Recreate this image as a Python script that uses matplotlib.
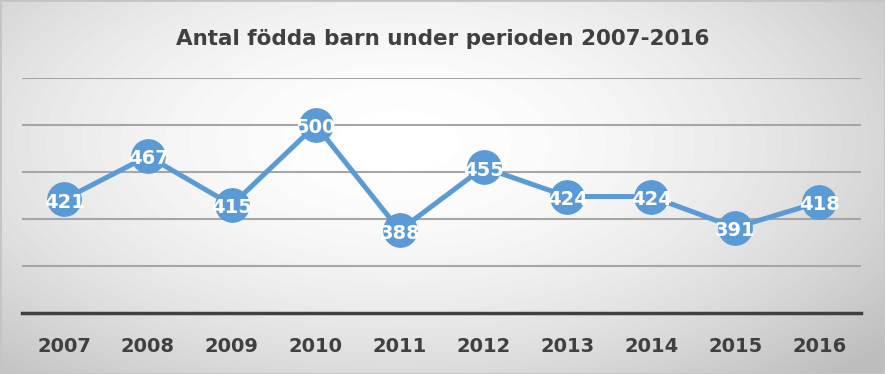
import numpy as np
import matplotlib.pyplot as plt

# data
years = ['2007', '2008', '2009', '2010', '2011', '2012', '2013', '2014', '2015', '2016']
births = [421, 467, 415, 500, 388, 455, 424, 424, 391, 418]
title = 'Antal födda barn under perioden 2007-2016'

blue = '#5B9BD5'
dark = '#404040'

fig = plt.figure(figsize=(8.85, 3.74), dpi=100)

# radial grey gradient behind everything (lightest a bit above centre)
bg = fig.add_axes([0, 0, 1, 1], zorder=0)
yy, xx = np.mgrid[1:0:374j, 0:1:885j]
r = np.sqrt(((xx - 0.45) / 0.62) ** 2 + ((yy - 0.62) / 0.75) ** 2)
bg.imshow(1.0 - 0.2 * np.clip(r, 0, 1.15) ** 1.8, cmap='gray', vmin=0, vmax=1,
          aspect='auto', extent=[0, 1, 0, 1])
bg.add_patch(plt.Rectangle((0, 0), 1, 1, fill=False, ec='#c4c4c4', lw=2,
                           transform=bg.transAxes))
bg.axis('off')

ax = fig.add_axes([0.025, 0.163, 0.948, 0.628], zorder=1)
ax.patch.set_alpha(0)
x = np.arange(len(years))
ax.plot(x, births, color=blue, lw=3.6, marker='o', ms=24, mfc=blue, mec=blue, zorder=3)
for xi, v in zip(x, births):
    ax.text(xi, v - 3, str(v), color='white', fontsize=14, fontweight='bold',
            ha='center', va='center', zorder=4)

ax.set_xlim(-0.5, len(years) - 0.5)
ax.set_ylim(300, 550)
ax.set_yticks([350, 400, 450, 500, 550])
ax.yaxis.grid(True, color='#a6a6a6', lw=1.5)
ax.set_axisbelow(True)
ax.tick_params(left=False, labelleft=False, bottom=False)
ax.set_xticks(x)
ax.set_xticklabels(years, fontsize=14, fontweight='bold', color=dark)
ax.tick_params(axis='x', pad=14)
for s in ['left', 'right', 'top']:
    ax.spines[s].set_visible(False)
ax.spines['bottom'].set_color(dark)
ax.spines['bottom'].set_linewidth(2.5)

fig.text(0.5, 0.895, title, ha='center', va='center', fontsize=15.5,
         fontweight='bold', color=dark)

fig.savefig('out.png', dpi=100)
